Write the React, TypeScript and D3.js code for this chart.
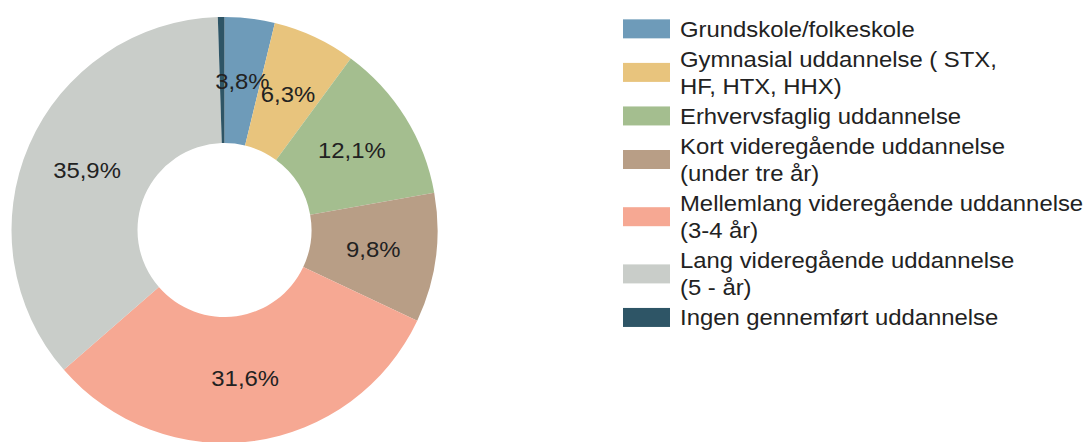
import React from "react";
import * as d3 from "d3";

const categories: string[][] = [
  ["Grundskole/folkeskole"],
  ["Gymnasial uddannelse ( STX,", "HF, HTX, HHX)"],
  ["Erhvervsfaglig uddannelse"],
  ["Kort videregående uddannelse", "(under tre år)"],
  ["Mellemlang videregående uddannelse", "(3-4 år)"],
  ["Lang videregående uddannelse", "(5 - år)"],
  ["Ingen gennemført uddannelse"],
];
const values: number[] = [3.8, 6.3, 12.1, 9.8, 31.6, 35.9, 0.5];
const colors: string[] = ["#6e9bb9", "#e8c47d", "#a4be8f", "#b89e86", "#f6a893", "#c9cdc9", "#2e5566"];
const labels: string[] = ["3,8%", "6,3%", "12,1%", "9,8%", "31,6%", "35,9%", ""];

export default function App() {
  const W = 1091, H = 442;
  const cx = 224.5, cy = 230, R = 213, r = 87;
  const pie = d3.pie<number>().sort(null).value((d) => d);
  const arcs = pie(values);
  const arc = d3.arc<d3.PieArcDatum<number>>().innerRadius(r).outerRadius(R);
  const fs = 22;
  const sx = 1.085;
  const lineH = 27.3;
  const gap = 2.6;
  const legendX = 623;
  const textX = 680;
  let y = 36.7;
  const legendItems = categories.map((lines, i) => {
    const base = y;
    y += lines.length * lineH + gap;
    return { lines, base, i };
  });
  return (
    <svg width={W} height={H} style={{ position: "absolute", left: 0, top: 0, background: "#fff" }}
      fontFamily="'Liberation Sans', Arial, sans-serif">
      <g transform={`translate(${cx},${cy})`}>
        {arcs.map((a, i) => (
          <path key={i} d={arc(a) || ""} fill={colors[i]} />
        ))}
        {arcs.map((a, i) => {
          const [x, yy] = arc.centroid(a);
          return labels[i] ? (
            <text key={"l" + i} transform={`translate(${x},${yy}) scale(${sx},1)`} textAnchor="middle"
              dominantBaseline="central" fontSize={fs} fill="#222">{labels[i]}</text>
          ) : null;
        })}
      </g>
      {legendItems.map(({ lines, base, i }) => {
        const capTop = base - 15.7;
        const bottom = base + (lines.length - 1) * lineH;
        const mid = (capTop + bottom) / 2;
        return (
          <g key={"g" + i}>
            <rect x={legendX} y={mid - 9.5} width={47} height={19} fill={colors[i]} />
            {lines.map((t, j) => (
              <text key={j} transform={`translate(${textX},${base + j * lineH}) scale(${sx},1)`}
                fontSize={fs} fill="#222">{t}</text>
            ))}
          </g>
        );
      })}
    </svg>
  );
}
